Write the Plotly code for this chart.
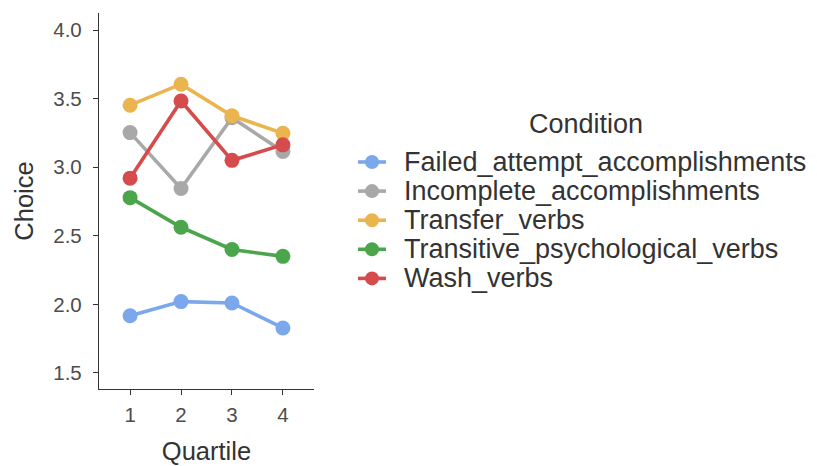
import plotly.graph_objects as go

quartiles = [1, 2, 3, 4]
conditions = [
    "Failed_attempt_accomplishments",
    "Incomplete_accomplishments",
    "Transfer_verbs",
    "Transitive_psychological_verbs",
    "Wash_verbs",
]
failed_attempt = [1.917, 2.020, 2.010, 1.828]
incomplete = [3.252, 2.845, 3.360, 3.115]
transfer = [3.452, 3.605, 3.375, 3.247]
transitive_psych = [2.778, 2.562, 2.400, 2.350]
wash = [2.920, 3.482, 3.050, 3.163]

series = [failed_attempt, incomplete, transfer, transitive_psych, wash]
colors = ["#7BA7EC", "#A8A8A8", "#EAB54F", "#4BA54B", "#D64B4B"]

W, H = 817, 466
ML, MR, MT, MB = 99, 503, 13, 77
PW, PH = W - ML - MR, H - MT - MB


def px_x(px):
    return (px - ML) / PW


def px_y(py):
    return (H - MB - py) / PH


fig = go.Figure()
for name, vals, col in zip(conditions, series, colors):
    fig.add_trace(go.Scatter(
        x=quartiles, y=vals, name=name, mode="lines+markers",
        line=dict(color=col, width=3.6),
        marker=dict(color=col, size=15),
        showlegend=False,
    ))

font_family = "Liberation Sans, Arial, sans-serif"
text_col = "#333333"

# Manual legend (ggplot-style compact spacing)
leg_font = 27
key_cx, key_half, text_x = 372, 14, 402
first_y, step = 162, 29.1
annotations = [dict(
    text="Condition", xref="paper", yref="paper", x=px_x(586), y=px_y(124),
    xanchor="center", yanchor="middle", showarrow=False,
    font=dict(size=leg_font, color=text_col),
)]
shapes = []
for i, (name, col) in enumerate(zip(conditions, colors)):
    cy = first_y + i * step
    annotations.append(dict(
        text=name, xref="paper", yref="paper", x=px_x(text_x), y=px_y(cy),
        xanchor="left", yanchor="middle", showarrow=False,
        font=dict(size=leg_font, color=text_col),
    ))
    shapes.append(dict(
        type="line", xref="paper", yref="paper",
        x0=px_x(key_cx - key_half), x1=px_x(key_cx + key_half),
        y0=px_y(cy), y1=px_y(cy), line=dict(color=col, width=3.6),
    ))
    shapes.append(dict(
        type="circle", xref="paper", yref="paper",
        xsizemode="pixel", ysizemode="pixel",
        xanchor=px_x(key_cx), yanchor=px_y(cy),
        x0=-7, x1=7, y0=-7, y1=7,
        fillcolor=col, line=dict(width=0),
    ))

fig.update_layout(
    width=W, height=H,
    margin=dict(l=ML, r=MR, t=MT, b=MB, autoexpand=False),
    plot_bgcolor="white", paper_bgcolor="white",
    font=dict(family=font_family, color=text_col),
    showlegend=False,
    annotations=annotations,
    shapes=shapes,
    xaxis=dict(
        range=[0.39, 4.61], tickvals=quartiles, ticktext=["1", "2", "3", "4"],
        showgrid=False, zeroline=False, showline=True, linecolor="#333333", linewidth=1.3,
        ticks="outside", ticklen=5, tickwidth=1.3, tickcolor="#333333",
        tickfont=dict(size=20.5, color="#4D4D4D"), automargin=False,
        ticklabelstandoff=2,
        title=dict(text="Quartile", font=dict(size=25.5, color=text_col), standoff=17),
    ),
    yaxis=dict(
        range=[1.383, 4.124], tickvals=[1.5, 2.0, 2.5, 3.0, 3.5, 4.0],
        ticktext=["1.5", "2.0", "2.5", "3.0", "3.5", "4.0"],
        showgrid=False, zeroline=False, showline=True, linecolor="#333333", linewidth=1.3,
        ticks="outside", ticklen=5, tickwidth=1.3, tickcolor="#333333",
        tickfont=dict(size=20.5, color="#4D4D4D"), automargin=False,
        ticklabelstandoff=7,
        title=dict(text="Choice", font=dict(size=25.5, color=text_col), standoff=12),
    ),
)

fig.write_html("out.html")
